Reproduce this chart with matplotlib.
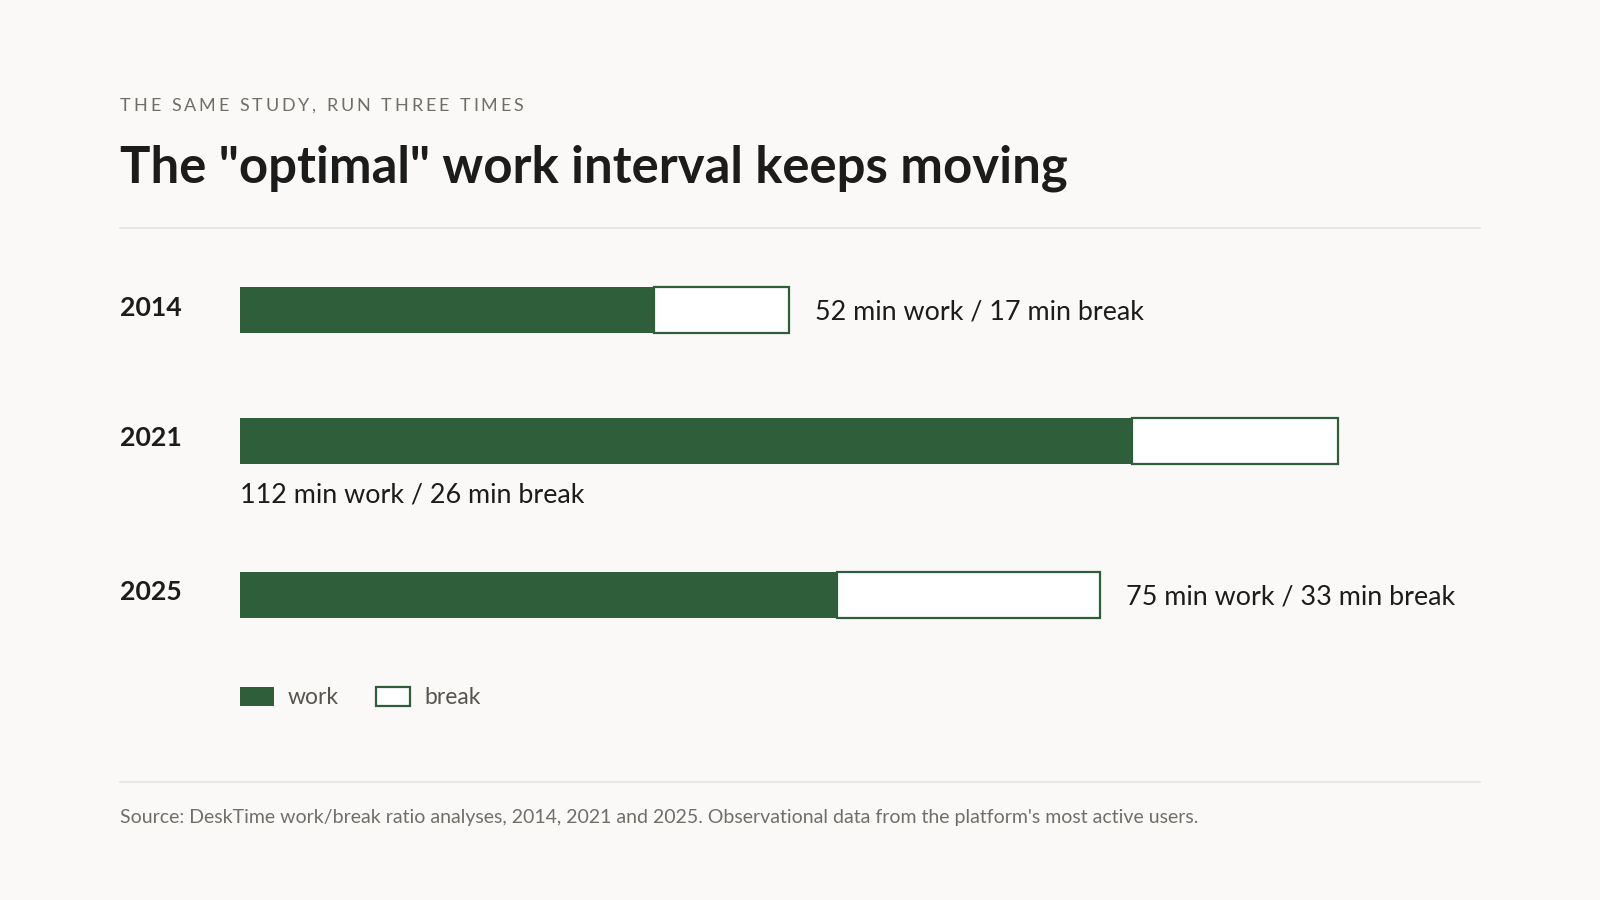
import matplotlib
matplotlib.use("Agg")
import matplotlib.pyplot as plt
from matplotlib.patches import Rectangle
from matplotlib import transforms
from matplotlib.font_manager import FontProperties

# data
years = ["2014", "2021", "2025"]
work_min = [52, 112, 75]
break_min = [17, 26, 33]

BG = "#faf9f7"
GREEN = "#2f5e3b"
INK = "#1c1c1c"
GREY = "#6f6f6a"
RULE = "#e6e4e0"
FONT = "Lato"

fig = plt.figure(figsize=(16, 9), dpi=100, facecolor=BG)
renderer = fig.canvas.get_renderer()

# overlay axes in pixel coordinates for text and rules
ax = fig.add_axes([0, 0, 1, 1])
ax.set_xlim(0, 1600)
ax.set_ylim(900, 0)
ax.axis("off")

# bar axes: x in minutes, y in pixels
px_per_min = 7.96
bar_left = 240
bx = fig.add_axes([bar_left / 1600, 0, 155 * px_per_min / 1600, 1])
bx.set_xlim(0, 155)
bx.set_ylim(900, 0)
bx.axis("off")
bx.patch.set_alpha(0)

row_y = [310, 441, 595]
bar_h = 46
right_edge = 1480


def text_width(s, size, weight="normal"):
    fp = FontProperties(family=FONT, size=size, weight=weight)
    w, h, d = renderer.get_text_width_height_descent(s, fp, ismath=False)
    return w


def tracked_text(x, y, s, size, color, tracking):
    # draw text with letter spacing (pixels)
    for i, ch in enumerate(s):
        if ch == " ":
            continue
        off = text_width(s[:i], size) + i * tracking if i else 0
        ax.text(x + off, y, ch, fontsize=size, color=color, family=FONT,
                va="baseline", ha="left")


# header
tracked_text(120, 111, "THE SAME STUDY, RUN THREE TIMES", 13, GREY, 2.9)
ax.text(120, 182, 'The "optimal" work interval keeps moving', fontsize=36.6,
        fontweight="bold", color=INK, family=FONT, va="baseline", ha="left")
ax.plot([120, right_edge], [227.5, 227.5], color=RULE, lw=1.2)

# bars
bx.barh(row_y, work_min, height=bar_h, left=0, color=GREEN, edgecolor="none")
bx.barh(row_y, break_min, height=bar_h, left=work_min, color="white",
        edgecolor=GREEN, linewidth=1.6)

label_size = 19.35
for yr, w, b, y in zip(years, work_min, break_min, row_y):
    ax.text(120, y + 5.5, yr, fontsize=19.2, fontweight="bold", color=INK,
            family=FONT, va="baseline", ha="left")
    label = f"{w} min work / {b} min break"
    end_px = bar_left + (w + b) * px_per_min
    if end_px + 26 + text_width(label, label_size) > right_edge:
        # not enough room on the right: put it under the bar
        bx.text(0, y + bar_h / 2 + 38, label, fontsize=label_size, color=INK,
                family=FONT, va="baseline", ha="left")
    else:
        tr = transforms.offset_copy(bx.transData, fig=fig, x=26, y=0, units="dots")
        bx.text(w + b, y + 9.5, label, transform=tr, fontsize=label_size,
                color=INK, family=FONT, va="baseline", ha="left")

# legend
ax.add_patch(Rectangle((240, 686.5), 34, 19, facecolor=GREEN, edgecolor="none"))
ax.text(288, 704, "work", fontsize=16.5, color="#555550", family=FONT,
        va="baseline", ha="left")
ax.add_patch(Rectangle((376, 687), 34, 18.5, facecolor="white",
                       edgecolor=GREEN, linewidth=1.6))
ax.text(424.5, 704, "break", fontsize=16.5, color="#555550", family=FONT,
        va="baseline", ha="left")

# footer
ax.plot([120, right_edge], [782, 782], color=RULE, lw=1.2)
ax.text(120, 823, "Source: DeskTime work/break ratio analyses, 2014, 2021 and 2025. "
        "Observational data from the platform's most active users.",
        fontsize=14.0, color=GREY, family=FONT, va="baseline", ha="left")

fig.savefig("out.png", dpi=100, facecolor=BG)
